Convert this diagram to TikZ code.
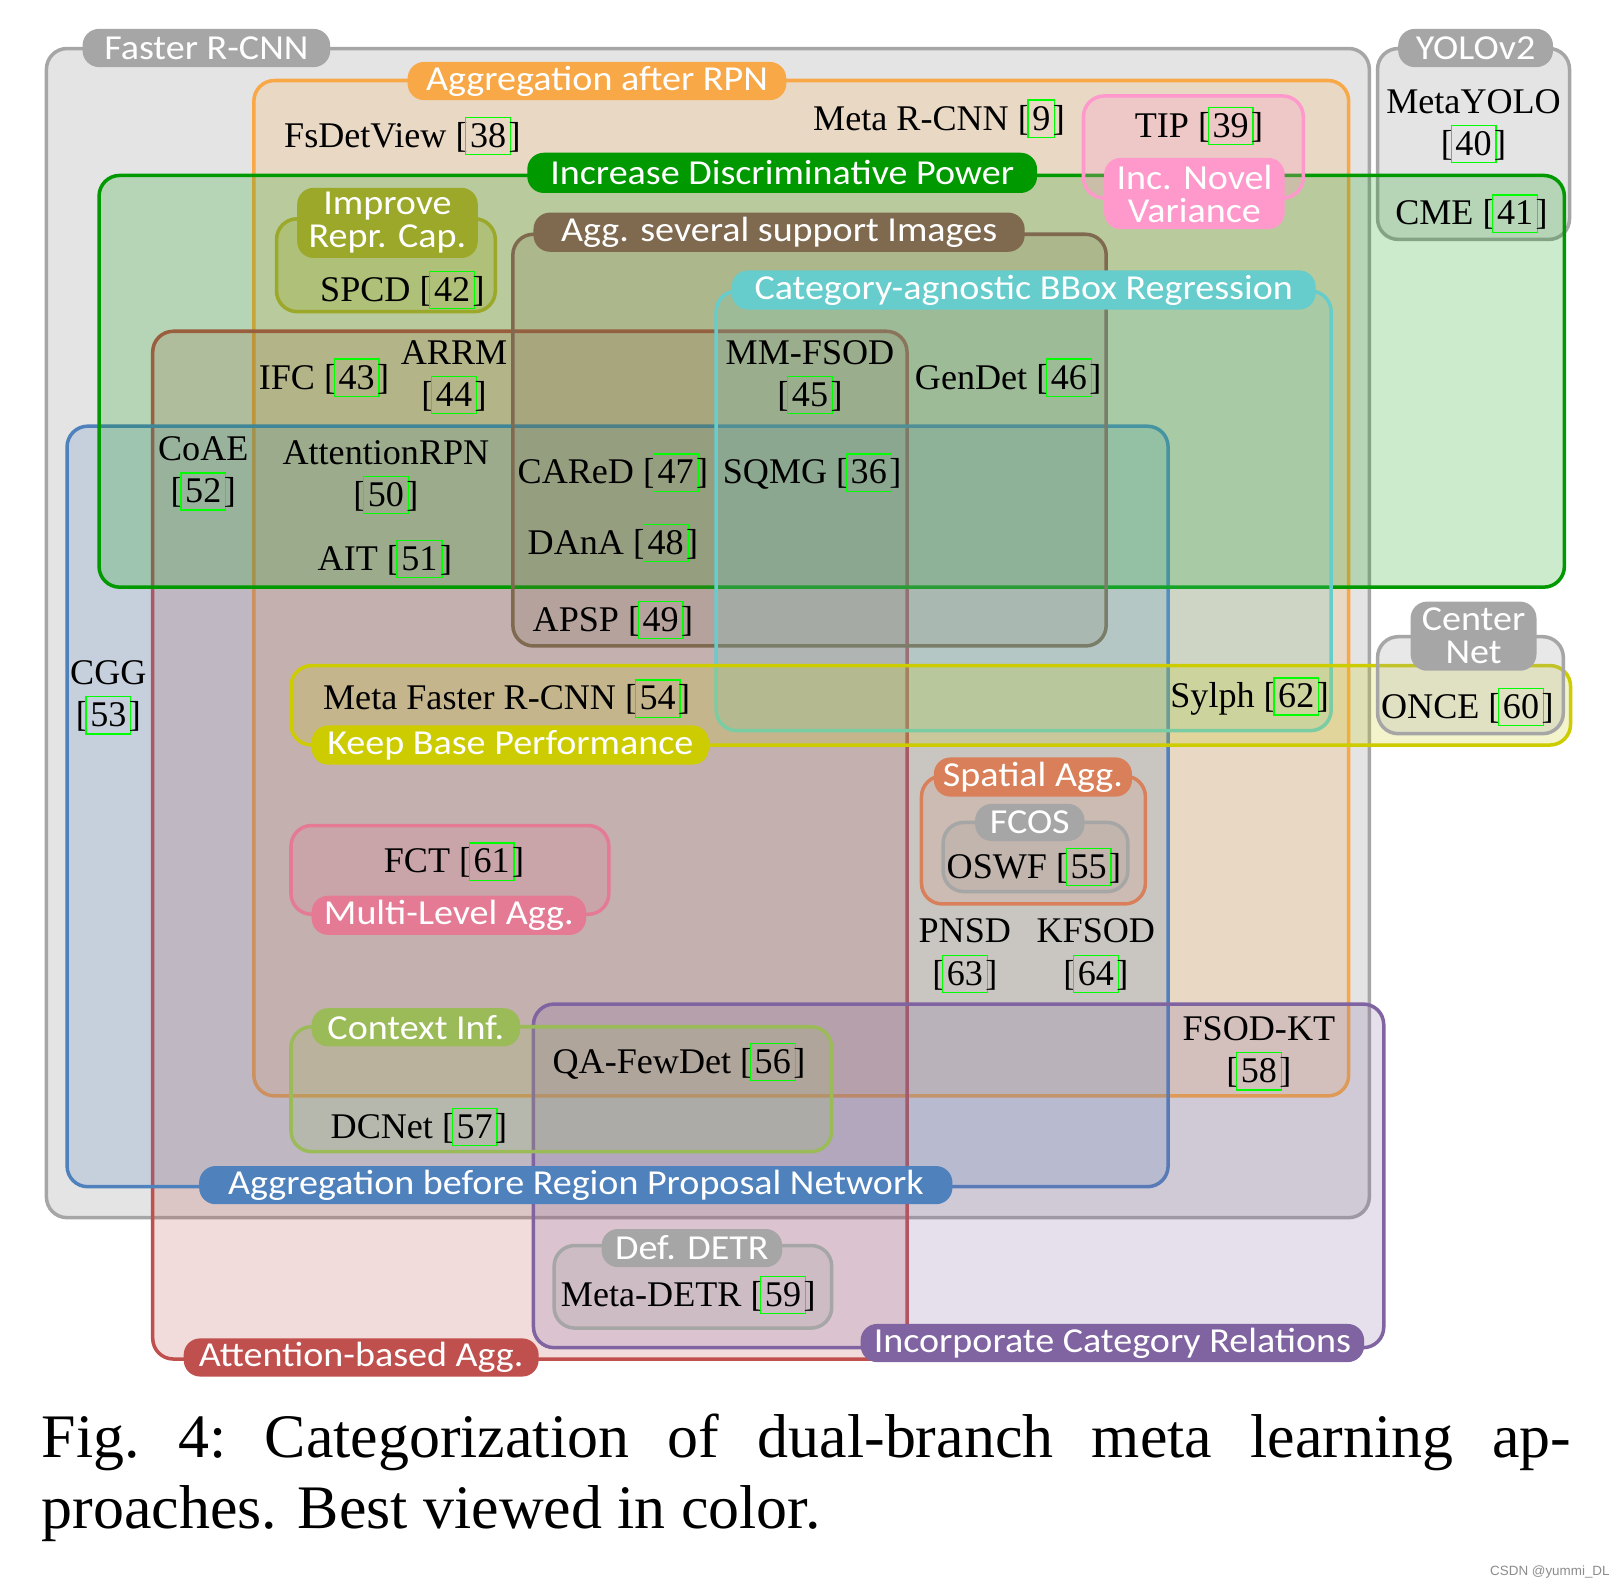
\documentclass[tikz,border=0pt]{standalone}
\usepackage{fontspec}
\setmainfont{Liberation Serif}
\newfontfamily\labfont[FakeStretch=1.085]{Carlito}
\newfontfamily\wmfont{Liberation Sans}
\definecolor{cgray}{HTML}{A6A6A6}
\definecolor{corange}{HTML}{F8A846}
\definecolor{cgreen}{HTML}{009A00}
\definecolor{cpink}{HTML}{FF99CC}
\definecolor{colive}{HTML}{9BA829}
\definecolor{cbrown}{HTML}{7F6A50}
\definecolor{ccyan}{HTML}{66CCCC}
\definecolor{cred}{HTML}{C0504D}
\definecolor{cblue}{HTML}{4F81BD}
\definecolor{cyellow}{HTML}{CCCC00}
\definecolor{cspatial}{HTML}{D9805A}
\definecolor{cmulti}{HTML}{E57A94}
\definecolor{ccontext}{HTML}{9BBB59}
\definecolor{cpurple}{HTML}{8064A2}
\definecolor{linkgreen}{HTML}{00FF00}
\newcommand\cit[1]{[\kern-1.2pt{\color{linkgreen}\setlength\fboxsep{0pt}\setlength\fboxrule{0.6pt}\fbox{\kern1.8pt\color{black}\rule[-3.2pt]{0pt}{17.4pt}#1\kern1.8pt}}\kern-1.2pt]}
\newcommand\labsize{\labfont\fontsize{17}{16}\selectfont}
\newcommand\refsize{\fontsize{17.5}{20.5}\selectfont}
\newcommand\capsize{\fontsize{30}{34.5}\selectfont}
\tikzset{
  area/.style={line width=1.7pt, rounded corners=10pt},
  pill/.style={rounded corners=8pt, inner sep=0pt, text=white, font=\labsize, align=center},
  item/.style={font=\refsize, align=center, inner sep=0pt}
}
\begin{document}
\begin{tikzpicture}[x=0.5pt,y=-0.5pt]
\useasboundingbox (0,0) rectangle (1568,1539);
\fill[white] (0,0) rectangle (1568,1539);
% ---------- areas ----------
\draw[area, draw=cgray, fill=cgray, fill opacity=0.3] (45,47) rectangle (1327,1180);
\draw[area, draw=cgray, fill=cgray, fill opacity=0.3] (1335,47) rectangle (1521,232);
\draw[area, draw=corange, fill=corange, fill opacity=0.2] (246,78) rectangle (1307,1062);
\draw[area, draw=cred, fill=cred, fill opacity=0.2] (148,321) rectangle (879,1317);
\draw[area, draw=cblue, fill=cblue, fill opacity=0.2] (65,413) rectangle (1132,1150);
\draw[area, draw=cgreen, fill=cgreen, fill opacity=0.2] (96,170) rectangle (1516,569);
\draw[area, draw=cbrown, fill=cbrown, fill opacity=0.2] (497,227) rectangle (1072,626);
\draw[area, draw=ccyan, fill=ccyan, fill opacity=0.2] (694,282) rectangle (1290,708);
\draw[area, draw=cyellow, fill=cyellow, fill opacity=0.2] (282,645) rectangle (1522,722);
\draw[area, draw=cpurple, fill=cpurple, fill opacity=0.2] (517,973) rectangle (1341,1306);
\draw[area, draw=cpink, fill=cpink, fill opacity=0.25] (1050,93) rectangle (1263,192);
\draw[area, draw=colive, fill=colive, fill opacity=0.3] (268,212) rectangle (480,302);
\draw[area, draw=cgray, fill=cgray, fill opacity=0.25] (1335,617) rectangle (1515,711);
\draw[area, draw=cspatial, fill=cspatial, fill opacity=0.15] (893,752) rectangle (1110,876);
\draw[area, draw=cgray, fill=cgray, fill opacity=0.25] (914,797) rectangle (1093,864);
\draw[area, draw=cmulti, fill=cmulti, fill opacity=0.2] (282,800) rectangle (590,886);
\draw[area, draw=ccontext, fill=ccontext, fill opacity=0.2] (282,995) rectangle (806,1116);
\draw[area, draw=cgray, fill=cgray, fill opacity=0.25] (537,1207) rectangle (806,1287);
% ---------- labels ----------
\node[pill, fill=cgray, minimum width=120pt, minimum height=18.5pt] (pfaster) at (200,46.5) {Faster R-CNN};
\node[pill, fill=cgray, minimum width=75pt, minimum height=18.5pt] (pyolo) at (1430,46.5) {YOLOv2};
\node[pill, fill=corange, minimum width=183.5pt, minimum height=18.5pt] (pafter) at (578.5,78.5) {Aggregation after RPN};
\node[pill, fill=cgreen, minimum width=247pt, minimum height=19.5pt] (pdisc) at (758,167.5) {Increase Discriminative Power};
\node[pill, fill=cpink, minimum width=87.5pt, minimum height=34.5pt] (pnovel) at (1157.5,187.5) {Inc. Novel\\Variance};
\node[pill, fill=colive, minimum width=87.5pt, minimum height=34pt] (prepr) at (375.5,216) {Improve\\Repr. Cap.};
\node[pill, fill=cbrown, minimum width=238pt, minimum height=19pt] (pseveral) at (755,225) {Agg. several support Images};
\node[pill, fill=ccyan, minimum width=283pt, minimum height=19pt] (pbbox) at (992,281) {Category-agnostic BBox Regression};
\node[pill, fill=cgray, minimum width=61pt, minimum height=33.5pt] (pcenter) at (1428,616.5) {Center\\Net};
\node[pill, fill=cyellow, minimum width=192.5pt, minimum height=19pt] (pkeep) at (494.5,722) {Keep Base Performance};
\node[pill, fill=cspatial, minimum width=96pt, minimum height=19pt] (pspatial) at (1001,753) {Spatial Agg.};
\node[pill, fill=cgray, minimum width=53pt, minimum height=18pt] (pfcos) at (998,797) {FCOS};
\node[pill, fill=cmulti, minimum width=133pt, minimum height=19pt] (pmulti) at (435,887) {Multi-Level Agg.};
\node[pill, fill=ccontext, minimum width=101pt, minimum height=18.5pt] (pcontext) at (403,995.5) {Context Inf.};
\node[pill, fill=cblue, minimum width=365pt, minimum height=18.5pt] (pbefore) at (558,1148.5) {Aggregation before Region Proposal Network};
\node[pill, fill=cgray, minimum width=87.5pt, minimum height=18.5pt] (pdetr) at (670.5,1209.5) {Def. DETR};
\node[pill, fill=cred, minimum width=172pt, minimum height=18.5pt] (pattn) at (350,1315.5) {Attention-based Agg.};
\node[pill, fill=cpurple, minimum width=244pt, minimum height=18.5pt] (prel) at (1078,1301.5) {Incorporate Category Relations};
% ---------- methods ----------
\node[item] (m38) at (390,132) {FsDetView \cit{38}};
\node[item] (m9) at (910,115) {Meta R-CNN \cit{9}};
\node[item] (m39) at (1162,122) {TIP \cit{39}};
\node[item] (m40) at (1428,122.5) {MetaYOLO\\\cit{40}};
\node[item] (m41) at (1426,207) {CME \cit{41}};
\node[item] (m42) at (390,281) {SPCD \cit{42}};
\node[item] (m43) at (314,366) {IFC \cit{43}};
\node[item] (m44) at (440,365.5) {ARRM\\\cit{44}};
\node[item] (m45) at (785,365.5) {MM-FSOD\\\cit{45}};
\node[item] (m46) at (977,366) {GenDet \cit{46}};
\node[item] (m52) at (197,459) {CoAE\\\cit{52}};
\node[item] (m50) at (374,462.5) {AttentionRPN\\\cit{50}};
\node[item] (m51) at (373,542) {AIT \cit{51}};
\node[item] (m47) at (594,458) {CAReD \cit{47}};
\node[item] (m36) at (787,458) {SQMG \cit{36}};
\node[item] (m48) at (594,526) {DAnA \cit{48}};
\node[item] (m49) at (594,601) {APSP \cit{49}};
\node[item] (m53) at (105,676) {CGG\\\cit{53}};
\node[item] (m54) at (491,677) {Meta Faster R-CNN \cit{54}};
\node[item] (m62) at (1211,675) {Sylph \cit{62}};
\node[item] (m60) at (1422,685) {ONCE \cit{60}};
\node[item] (m61) at (440,835) {FCT \cit{61}};
\node[item] (m55) at (1002,840) {OSWF \cit{55}};
\node[item] (m63) at (935,926.5) {PNSD\\\cit{63}};
\node[item] (m64) at (1062,926.5) {KFSOD\\\cit{64}};
\node[item] (m58) at (1220,1021) {FSOD-KT\\\cit{58}};
\node[item] (m56) at (658,1029) {QA-FewDet \cit{56}};
\node[item] (m57) at (406,1092) {DCNet \cit{57}};
\node[item] (m59) at (667,1255) {Meta-DETR \cit{59}};
% ---------- caption ----------
\node[anchor=base west, inner sep=0pt, font=\capsize] (cap1) at (40,1412)
  {\hbox to 741pt{Fig.\hfill 4:\hfill Categorization\hfill of\hfill dual-branch\hfill meta\hfill learning\hfill ap-}};
\node[anchor=base west, inner sep=0pt, font=\capsize] (cap2) at (40,1481)
  {proaches. Best viewed in color.};
\node[inner sep=0pt, font=\wmfont\fontsize{6.5}{7}\selectfont, text=black!45] (wm) at (1502,1523) {CSDN @yummi\_DL};
\end{tikzpicture}
\end{document}
